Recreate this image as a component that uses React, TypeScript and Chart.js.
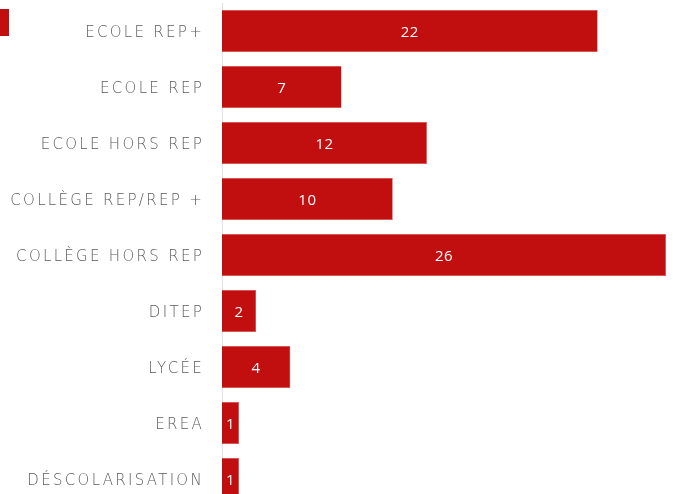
import React, { useEffect, useRef } from "react";
import { Chart, registerables } from "chart.js";

Chart.register(...registerables);

const categories = [
  "ECOLE REP+",
  "ECOLE REP",
  "ECOLE HORS REP",
  "COLLÈGE REP/REP +",
  "COLLÈGE HORS REP",
  "DITEP",
  "LYCÉE",
  "EREA",
  "DÉSCOLARISATION",
];
const values = [22, 7, 12, 10, 26, 2, 4, 1, 1];
const xMax = 26;

const RED = "#C10E0E";
const FONT = "'DejaVu Sans', sans-serif";

const valueLabels = {
  id: "valueLabels",
  afterDatasetsDraw(chart: any) {
    const ctx = chart.ctx;
    const meta = chart.getDatasetMeta(0);
    ctx.save();
    (ctx as any).letterSpacing = "0.5px";
    ctx.fillStyle = "#ffffff";
    ctx.font = "400 15px 'Open Sans', sans-serif";
    ctx.textAlign = "center";
    ctx.textBaseline = "middle";
    meta.data.forEach((el: any, i: number) => {
      const cx = (el.x + el.base) / 2;
      ctx.fillText(String(chart.data.datasets[0].data[i]), cx, el.y + 2);
    });
    ctx.restore();
  },
};

const spacing = {
  id: "spacing",
  beforeDraw(chart: any) {
    (chart.ctx as any).letterSpacing = "2.3px";
  },
  beforeLayout(chart: any) {
    (chart.ctx as any).letterSpacing = "2.3px";
  },
};

export default function App() {
  const ref = useRef<HTMLCanvasElement>(null);
  useEffect(() => {
    if (!ref.current) return;
    const chart = new Chart(ref.current, {
      type: "bar",
      data: {
        labels: categories,
        datasets: [
          {
            data: values,
            backgroundColor: RED,
            borderColor: "#D94A4A",
            borderWidth: 0.5,
            barPercentage: 0.75,
            categoryPercentage: 1,
          },
        ],
      },
      options: {
        indexAxis: "y",
        animation: false,
        responsive: false,
        maintainAspectRatio: false,
        layout: { padding: { top: 3, bottom: 3, right: 7, left: 0 } },
        plugins: { legend: { display: false }, tooltip: { enabled: false } },
        scales: {
          x: {
            display: false,
            min: 0,
            max: xMax,
          },
          y: {
            grid: { display: false, drawTicks: false },
            border: { display: true, color: "#e0e0e0", width: 1 },
            ticks: {
              color: "#5a5a5a",
              padding: 18,
              labelOffset: 2,
              font: { family: FONT, size: 15, weight: 200 as any },
            },
            afterFit(scale: any) {
              scale.width = 222;
            },
          },
        },
      },
      plugins: [spacing, valueLabels],
    });
    return () => chart.destroy();
  }, []);
  return (
    <div
      style={{
        position: "fixed",
        left: 0,
        top: 0,
        width: 673,
        height: 494,
        overflow: "hidden",
        background: "#fff",
      }}
    >
      <canvas
        ref={ref}
        width={673}
        height={558}
        style={{ display: "block", marginTop: -24 }}
      />
      <div
        style={{
          position: "absolute",
          left: 0,
          top: 9,
          width: 9,
          height: 27,
          background: RED,
        }}
      />
    </div>
  );
}
